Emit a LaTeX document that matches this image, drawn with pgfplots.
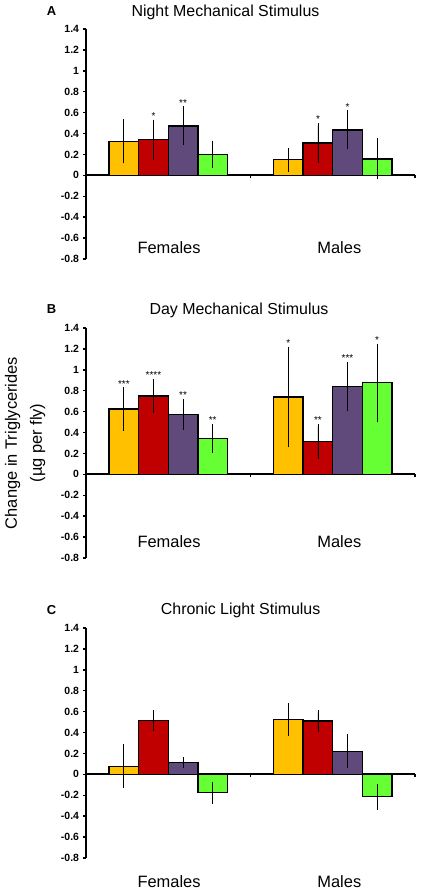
\documentclass[border=0pt]{standalone}
\usepackage{fontspec}
\setmainfont{Liberation Sans}
\usepackage{pgfplots}
\usepackage{pgfplotstable}
\pgfplotsset{compat=1.18}
\definecolor{cyel}{HTML}{FFC000}
\definecolor{cred}{HTML}{C00000}
\definecolor{cpur}{HTML}{604A7B}
\definecolor{cgrn}{HTML}{66FF33}

% x positions of the four bars in each group: xy, xr, xp, xg
\pgfplotstableread{
xy xr xp xg yel yele red rede pur pure grn grne
0.23 0.41 0.59 0.77 0.326 0.190 0.342 0.170 0.473 0.166 0.201 0.110
1.23 1.41 1.59 1.77 0.150 0.093 0.310 0.169 0.435 0.165 0.157 0.175
}\tabA
\pgfplotstableread{
xy xr xp xg yel yele red rede pur pure grn grne
0.23 0.41 0.59 0.77 0.625 0.185 0.750 0.144 0.574 0.126 0.343 0.118
1.23 1.41 1.59 1.77 0.740 0.460 0.314 0.144 0.843 0.214 0.878 0.352
}\tabB
\pgfplotstableread{
xy xr xp xg yel yele red rede pur pure grn grne
0.23 0.41 0.59 0.77 0.077 0.189 0.513 0.080 0.115 0.029 -0.176 0.084
1.23 1.41 1.59 1.77 0.522 0.138 0.509 0.081 0.221 0.141 -0.215 0.102
}\tabC
\pgfplotstableread{
x y s
0.41 0.511 *
0.59 0.639 **
1.41 0.479 *
1.59 0.600 *
}\starA
\pgfplotstableread{
x y s
0.23 0.810 ***
0.41 0.894 ****
0.59 0.700 **
0.77 0.461 **
1.23 1.200 *
1.41 0.458 **
1.59 1.057 ***
1.77 1.230 *
}\starB

\pgfplotsset{
  panel/.style={
    scale only axis, width=329bp, height=230bp,
    xmin=0, xmax=2, ymin=-0.8, ymax=1.4,
    clip=false,
    axis y line*=left, axis x line*=middle,
    axis line style={line width=2.2bp, black},
    ytick={-0.8,-0.6,-0.4,-0.2,0,0.2,0.4,0.6,0.8,1,1.2,1.4},
    yticklabel style={font=\bfseries\fontsize{10.5}{12}\selectfont, xshift=-0.5bp},
    /pgf/number format/.cd, fixed, assume math mode=true, /pgfplots/.cd,
    xtick={1,2}, xticklabels={},
    tick align=outside,
    major tick length=3bp,
    tick style={line width=1.4bp, black},
    extra x ticks={0.505,1.54},
    extra x tick labels={Females,Males},
    extra x tick style={major tick length=0pt},
    title style={font=\fontsize{16}{19}\selectfont, anchor=base, yshift=7bp},
  },
  bars/.style={
    ybar, bar width=0.18, bar shift=0, draw=black, line width=1.3bp,
    error bars/.cd, y dir=both, y explicit,
    error bar style={line width=0.8bp, black},
    error mark options={mark size=2.2bp, line width=0.8bp, black},
    /pgfplots/.cd,
  },
  stars/.style={
    draw=none, mark=none, nodes near coords, point meta=explicit symbolic,
    nodes near coords style={anchor=base, yshift=2.5bp, font=\fontsize{10}{11}\selectfont, inner sep=0pt},
  },
}

\begin{document}
\begin{tikzpicture}
\useasboundingbox (0,0) rectangle (421bp,893bp);

% Panel A
\begin{axis}[panel, at={(86bp,634bp)}, anchor=south west,
  title={Night Mechanical Stimulus}, title style={at={(0.424,1)}},
  extra x tick style={xticklabel style={font=\fontsize{16.5}{19}\selectfont, yshift=-63bp}}]
\addplot[bars, fill=cyel] table[x=xy, y=yel, y error=yele] {\tabA};
\addplot[bars, fill=cred] table[x=xr, y=red, y error=rede] {\tabA};
\addplot[bars, fill=cpur] table[x=xp, y=pur, y error=pure] {\tabA};
\addplot[bars, fill=cgrn] table[x=xg, y=grn, y error=grne] {\tabA};
\addplot[stars] table[x=x, y=y, meta=s] {\starA};
\node[font=\bfseries\fontsize{13}{15}\selectfont, anchor=base] at ([xshift=-34.5bp, yshift=13bp]rel axis cs:0,1) {A};
\end{axis}

% Panel B
\begin{axis}[panel, at={(86bp,335bp)}, anchor=south west,
  title={Day Mechanical Stimulus}, title style={at={(0.465,1)}, yshift=1bp},
  ylabel={Change in Triglycerides\\(µg per fly)},
  ylabel style={at={(axis description cs:-0.185,0.5)}, anchor=center, align=center, font=\fontsize{16.5}{25}\selectfont},
  extra x tick style={xticklabel style={font=\fontsize{16.5}{19}\selectfont, yshift=-58bp}}]
\addplot[bars, fill=cyel] table[x=xy, y=yel, y error=yele] {\tabB};
\addplot[bars, fill=cred] table[x=xr, y=red, y error=rede] {\tabB};
\addplot[bars, fill=cpur] table[x=xp, y=pur, y error=pure] {\tabB};
\addplot[bars, fill=cgrn] table[x=xg, y=grn, y error=grne] {\tabB};
\addplot[stars] table[x=x, y=y, meta=s] {\starB};
\node[font=\bfseries\fontsize{13}{15}\selectfont, anchor=base] at ([xshift=-34.5bp, yshift=14bp]rel axis cs:0,1) {B};
\end{axis}

% Panel C
\begin{axis}[panel, at={(86bp,35bp)}, anchor=south west,
  title={Chronic Light Stimulus}, title style={at={(0.47,1)}, yshift=1bp},
  extra x tick style={xticklabel style={font=\fontsize{16.5}{19}\selectfont, yshift=-98bp}}]
\addplot[bars, fill=cyel] table[x=xy, y=yel, y error=yele] {\tabC};
\addplot[bars, fill=cred] table[x=xr, y=red, y error=rede] {\tabC};
\addplot[bars, fill=cpur] table[x=xp, y=pur, y error=pure] {\tabC};
\addplot[bars, fill=cgrn] table[x=xg, y=grn, y error=grne] {\tabC};
\node[font=\bfseries\fontsize{13}{15}\selectfont, anchor=base] at ([xshift=-34.5bp, yshift=14bp]rel axis cs:0,1) {C};
\end{axis}
\end{tikzpicture}
\end{document}
